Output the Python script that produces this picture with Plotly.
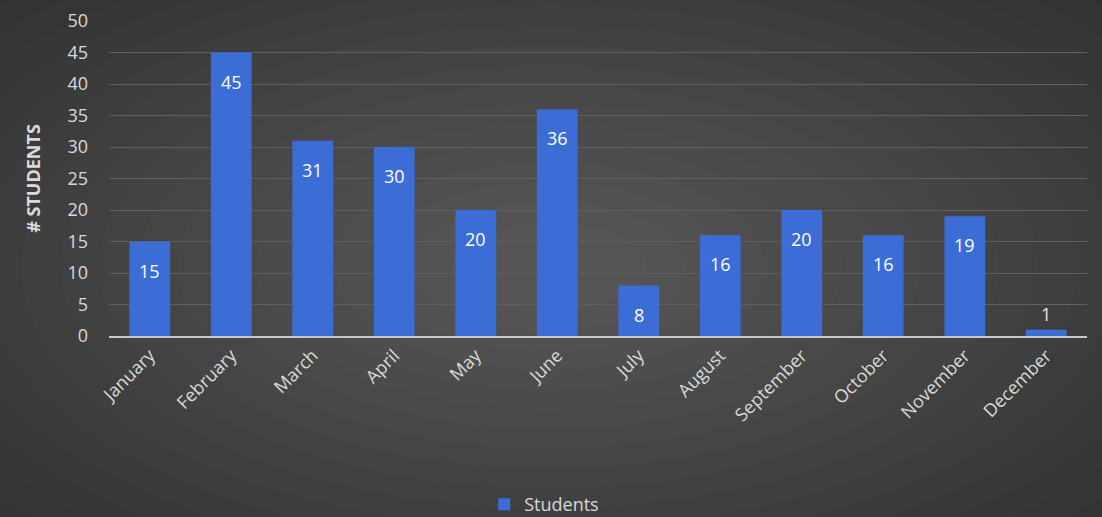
import plotly.graph_objects as go

months = ["January", "February", "March", "April", "May", "June", "July",
          "August", "September", "October", "November", "December"]
students = [15, 45, 31, 30, 20, 36, 8, 16, 20, 16, 19, 1]
y_ticks = [0, 5, 10, 15, 20, 25, 30, 35, 40, 45, 50]

FONT = "Open Sans, Noto Sans, sans-serif"

fig = go.Figure()
fig.add_trace(go.Bar(
    x=months, y=students, name="Students",
    marker=dict(color="#3c6dd6", line=dict(width=0)),
    hoverinfo="x+y",
))

# background vignette (lighter centre)
shapes = []
n = 20
cx, cy = 0.45, 0.22
for i in range(n):
    f = i / n
    rx = 0.80 * (1 - f) + 0.06
    ry = 1.25 * (1 - f) + 0.08
    shapes.append(dict(
        type="circle", xref="paper", yref="paper", layer="below",
        x0=cx - rx, x1=cx + rx, y0=cy - ry, y1=cy + ry,
        fillcolor="rgba(255,255,255,0.011)", line=dict(width=0),
    ))

annotations = []
for m, v in zip(months, students):
    inside = v >= 4
    annotations.append(dict(
        x=m, y=v, xref="x", yref="y", text=str(v), showarrow=False,
        yshift=-29 if inside else 16,
        font=dict(family=FONT, size=18, color="#ffffff" if inside else "#e6e6e6"),
    ))

fig.update_layout(
    width=1102, height=517,
    margin=dict(l=109, r=15, t=21, b=181, autoexpand=False),
    paper_bgcolor="#2d2d2d",
    plot_bgcolor="rgba(0,0,0,0)",
    bargap=0.5,
    shapes=shapes,
    annotations=annotations,
    font=dict(family=FONT, color="#d9d9d9"),
    showlegend=True,
    legend=dict(orientation="h", x=0.445, xanchor="center",
                y=-0.535, yanchor="middle",
                bgcolor="rgba(0,0,0,0)", itemwidth=30,
                font=dict(family=FONT, size=18, color="#d9d9d9")),
    xaxis=dict(
        tickangle=-45, tickfont=dict(family=FONT, size=18, color="#d9d9d9"),
        showgrid=False, showline=True, linecolor="#c8c8c8", linewidth=2,
        ticks="", automargin=False,
    ),
    yaxis=dict(
        range=[0, 50], tickvals=y_ticks, tickfont=dict(family=FONT, size=18, color="#d9d9d9"),
        showgrid=True, gridcolor="#606060", gridwidth=1, zeroline=False,
        showline=False, ticks="", ticklabelstandoff=20, automargin=False,
        title=dict(text="<b># STUDENTS</b>", font=dict(family=FONT, size=18, color="#d9d9d9"),
                   standoff=22),
    ),
)

fig.write_html("out.html", config={"displayModeBar": False},
               post_script="document.body.style.margin='0';")
